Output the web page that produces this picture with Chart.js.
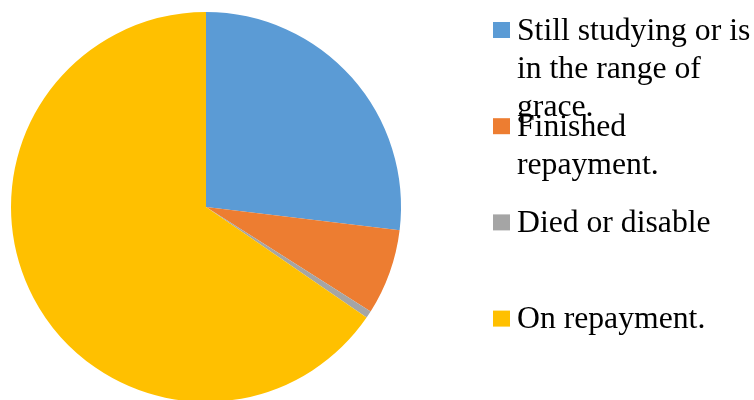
<!DOCTYPE html>
<html>
<head>
<meta charset="utf-8">
<script src="https://cdn.jsdelivr.net/npm/chart.js@4/dist/chart.umd.min.js"></script>
<style>
html,body{margin:0;padding:0;background:#fff;overflow:hidden;width:754px;height:400px;}
#wrap{position:absolute;left:0;top:0;width:754px;height:402px;}
</style>
</head>
<body>
<div id="wrap"><canvas id="c" width="754" height="402"></canvas></div>
<script>
const categories = [
  ["Still studying or is", "in the range of", "grace."],
  ["Finished", "repayment."],
  ["Died or disable"],
  ["On repayment."]
];
const values = [26.9, 7.1, 0.6, 65.4];
const colors = ["#5B9BD5", "#ED7D31", "#A5A5A5", "#FFC000"];

const legendPlugin = {
  id: 'sideLegend',
  afterDraw(chart) {
    const ctx = chart.ctx;
    ctx.save();
    ctx.font = '31.7px "Liberation Serif", "Times New Roman", serif';
    ctx.textBaseline = 'alphabetic';
    ctx.textAlign = 'left';
    const firstBase = 39.5, pitch = 96.2, lineH = 38;
    categories.forEach((lines, i) => {
      const base = firstBase + i * pitch;
      ctx.fillStyle = colors[i];
      ctx.fillRect(493, base - 17.5, 17, 16);
      ctx.fillStyle = '#000';
      lines.forEach((t, j) => ctx.fillText(t, 517, base + j * lineH));
    });
    ctx.restore();
  }
};

new Chart(document.getElementById('c'), {
  type: 'pie',
  data: {
    labels: categories.map(l => l.join(' ')),
    datasets: [{ data: values, backgroundColor: colors, borderWidth: 0 }]
  },
  options: {
    responsive: false,
    animation: false,
    layout: { padding: { left: 11, top: 12, right: 353, bottom: 0 } },
    plugins: { legend: { display: false }, tooltip: { enabled: false } }
  },
  plugins: [legendPlugin]
});
</script>
</body>
</html>
